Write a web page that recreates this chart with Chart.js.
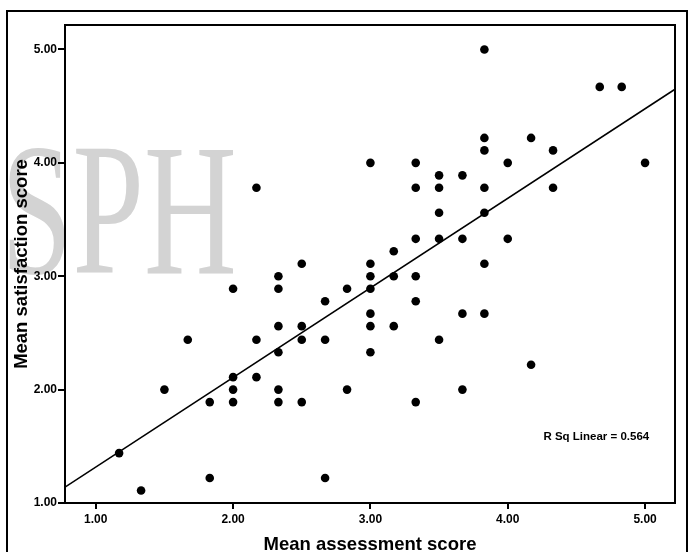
<!DOCTYPE html>
<html>
<head>
<meta charset="utf-8">
<title>Mean assessment vs satisfaction</title>
<script src="https://cdn.jsdelivr.net/npm/chart.js@4.4.1/dist/chart.umd.min.js"></script>
<style>
    html, body { margin: 0; padding: 0; background: #fff; }
    #wrap { width: 689px; height: 552px; }
</style>
</head>
<body>
<div id="wrap"><canvas id="myChart" width="689" height="552"></canvas></div>
<script>
// one entry per respondent, grouped by assessment score
const assessment = [
    1.17,
    1.33,
    1.5,
    1.67,
    1.83, 1.83,
    2.0, 2.0, 2.0, 2.0,
    2.17, 2.17, 2.17,
    2.33, 2.33, 2.33, 2.33, 2.33, 2.33,
    2.5, 2.5, 2.5, 2.5,
    2.67, 2.67, 2.67,
    2.83, 2.83,
    3.0, 3.0, 3.0, 3.0, 3.0, 3.0, 3.0,
    3.17, 3.17, 3.17,
    3.33, 3.33, 3.33, 3.33, 3.33, 3.33,
    3.5, 3.5, 3.5, 3.5, 3.5,
    3.67, 3.67, 3.67, 3.67,
    3.83, 3.83, 3.83, 3.83, 3.83, 3.83, 3.83,
    4.0, 4.0,
    4.17, 4.17,
    4.33, 4.33,
    4.67,
    4.83,
    5.0
];
const satisfaction = [
    1.44,
    1.11,
    2.0,
    2.44,
    1.89, 1.22,
    2.89, 2.11, 2.0, 1.89,
    3.78, 2.44, 2.11,
    3.0, 2.89, 2.56, 2.33, 2.0, 1.89,
    3.11, 2.56, 2.44, 1.89,
    2.78, 2.44, 1.22,
    2.89, 2.0,
    4.0, 3.11, 3.0, 2.89, 2.67, 2.56, 2.33,
    3.22, 3.0, 2.56,
    4.0, 3.78, 3.33, 3.0, 2.78, 1.89,
    3.89, 3.78, 3.56, 3.33, 2.44,
    3.89, 3.33, 2.67, 2.0,
    5.0, 4.22, 4.11, 3.78, 3.56, 3.11, 2.67,
    4.0, 3.33,
    4.22, 2.22,
    4.11, 3.78,
    4.67,
    4.67,
    4.0
];

// fit line (ends at the axis limits)
const fitX = [0.776, 5.218];
const fitY = [1.14, 4.65];
const rSqText = 'R Sq Linear = 0.564';

const xTicks = [1, 2, 3, 4, 5];
const yTicks = [1, 2, 3, 4, 5];
const xTickLabels = ['1.00', '2.00', '3.00', '4.00', '5.00'];
const yTickLabels = ['1.00', '2.00', '3.00', '4.00', '5.00'];
const xRange = [0.776, 5.218];
const yRange = [1, 5.216];

const sans = '"Liberation Sans", Arial, sans-serif';

const points = assessment.map((x, i) => ({ x: x, y: satisfaction[i] }));
const fitLine = fitX.map((x, i) => ({ x: x, y: fitY[i] }));

// background, watermark, outer frame, plot box and the R Sq note
const decorations = {
    id: 'decorations',
    beforeDraw(chart) {
        const ctx = chart.ctx;
        ctx.save();
        ctx.fillStyle = '#fff';
        ctx.fillRect(0, 0, chart.width, chart.height);

        ctx.fillStyle = 'rgb(211,211,211)';
        ctx.font = '189px "Liberation Serif", "Times New Roman", serif';
        ctx.textBaseline = 'alphabetic';
        ctx.translate(1, 273);
        ctx.scale(0.68, 1);
        ctx.fillText('SPH', 0, 0);
        ctx.restore();

        ctx.save();
        ctx.strokeStyle = '#000';
        ctx.lineWidth = 2;
        ctx.beginPath();
        ctx.moveTo(7, 560);
        ctx.lineTo(7, 11);
        ctx.lineTo(687, 11);
        ctx.lineTo(687, 560);
        ctx.stroke();
        ctx.restore();
    },
    afterDatasetsDraw(chart) {
        const { ctx, chartArea: a, scales } = chart;
        ctx.save();
        ctx.strokeStyle = '#000';
        ctx.lineWidth = 2;
        ctx.strokeRect(a.left, a.top, a.right - a.left, a.bottom - a.top);

        ctx.fillStyle = '#000';
        ctx.font = 'bold 11.5px ' + sans;
        ctx.textAlign = 'left';
        ctx.textBaseline = 'middle';
        ctx.fillText(rSqText, scales.x.getPixelForValue(4.26), scales.y.getPixelForValue(1.58));
        ctx.restore();
    }
};

const ctx = document.getElementById('myChart').getContext('2d');

const myChart = new Chart(ctx, {
    type: 'scatter',
    data: {
        datasets: [
            {
                label: 'Respondents',
                data: points,
                backgroundColor: '#000',
                borderWidth: 0,
                pointRadius: 4.3,
                pointHoverRadius: 4.3
            },
            {
                type: 'line',
                label: 'Linear fit',
                data: fitLine,
                borderColor: '#000',
                borderWidth: 1.6,
                pointRadius: 0,
                fill: false
            }
        ]
    },
    options: {
        responsive: false,
        animation: false,
        events: [],
        layout: {
            padding: { left: 7, top: 25, right: 14, bottom: 0 }
        },
        plugins: {
            legend: { display: false },
            tooltip: { enabled: false }
        },
        scales: {
            x: {
                type: 'linear',
                min: xRange[0],
                max: xRange[1],
                afterBuildTicks: (s) => { s.ticks = xTicks.map(v => ({ value: v })); },
                afterFit: (s) => { s.height = 49; },
                border: { display: false },
                grid: {
                    drawOnChartArea: false,
                    drawTicks: true,
                    tickLength: 6,
                    lineWidth: 2,
                    color: '#000'
                },
                ticks: {
                    color: '#000',
                    padding: 3,
                    autoSkip: false,
                    maxRotation: 0,
                    font: { family: sans, size: 12, weight: 'bold' },
                    callback: (v, i) => xTickLabels[i]
                },
                title: {
                    display: true,
                    text: 'Mean assessment score',
                    color: '#000',
                    padding: { top: 0, bottom: -2.25 },
                    font: { family: sans, size: 18.5, weight: 'bold', lineHeight: 1 }
                }
            },
            y: {
                type: 'linear',
                min: yRange[0],
                max: yRange[1],
                afterBuildTicks: (s) => { s.ticks = yTicks.map(v => ({ value: v })); },
                afterFit: (s) => { s.width = 58; },
                border: { display: false },
                grid: {
                    drawOnChartArea: false,
                    drawTicks: true,
                    tickLength: 7,
                    lineWidth: 2,
                    color: '#000'
                },
                ticks: {
                    color: '#000',
                    padding: 1,
                    autoSkip: false,
                    font: { family: sans, size: 12, weight: 'bold' },
                    callback: (v, i) => yTickLabels[i]
                },
                title: {
                    display: true,
                    text: 'Mean satisfaction score',
                    color: '#000',
                    padding: { top: 5.75, bottom: 0 },
                    font: { family: sans, size: 18.5, weight: 'bold', lineHeight: 1 }
                }
            }
        }
    },
    plugins: [decorations]
});
</script>
</body>
</html>
